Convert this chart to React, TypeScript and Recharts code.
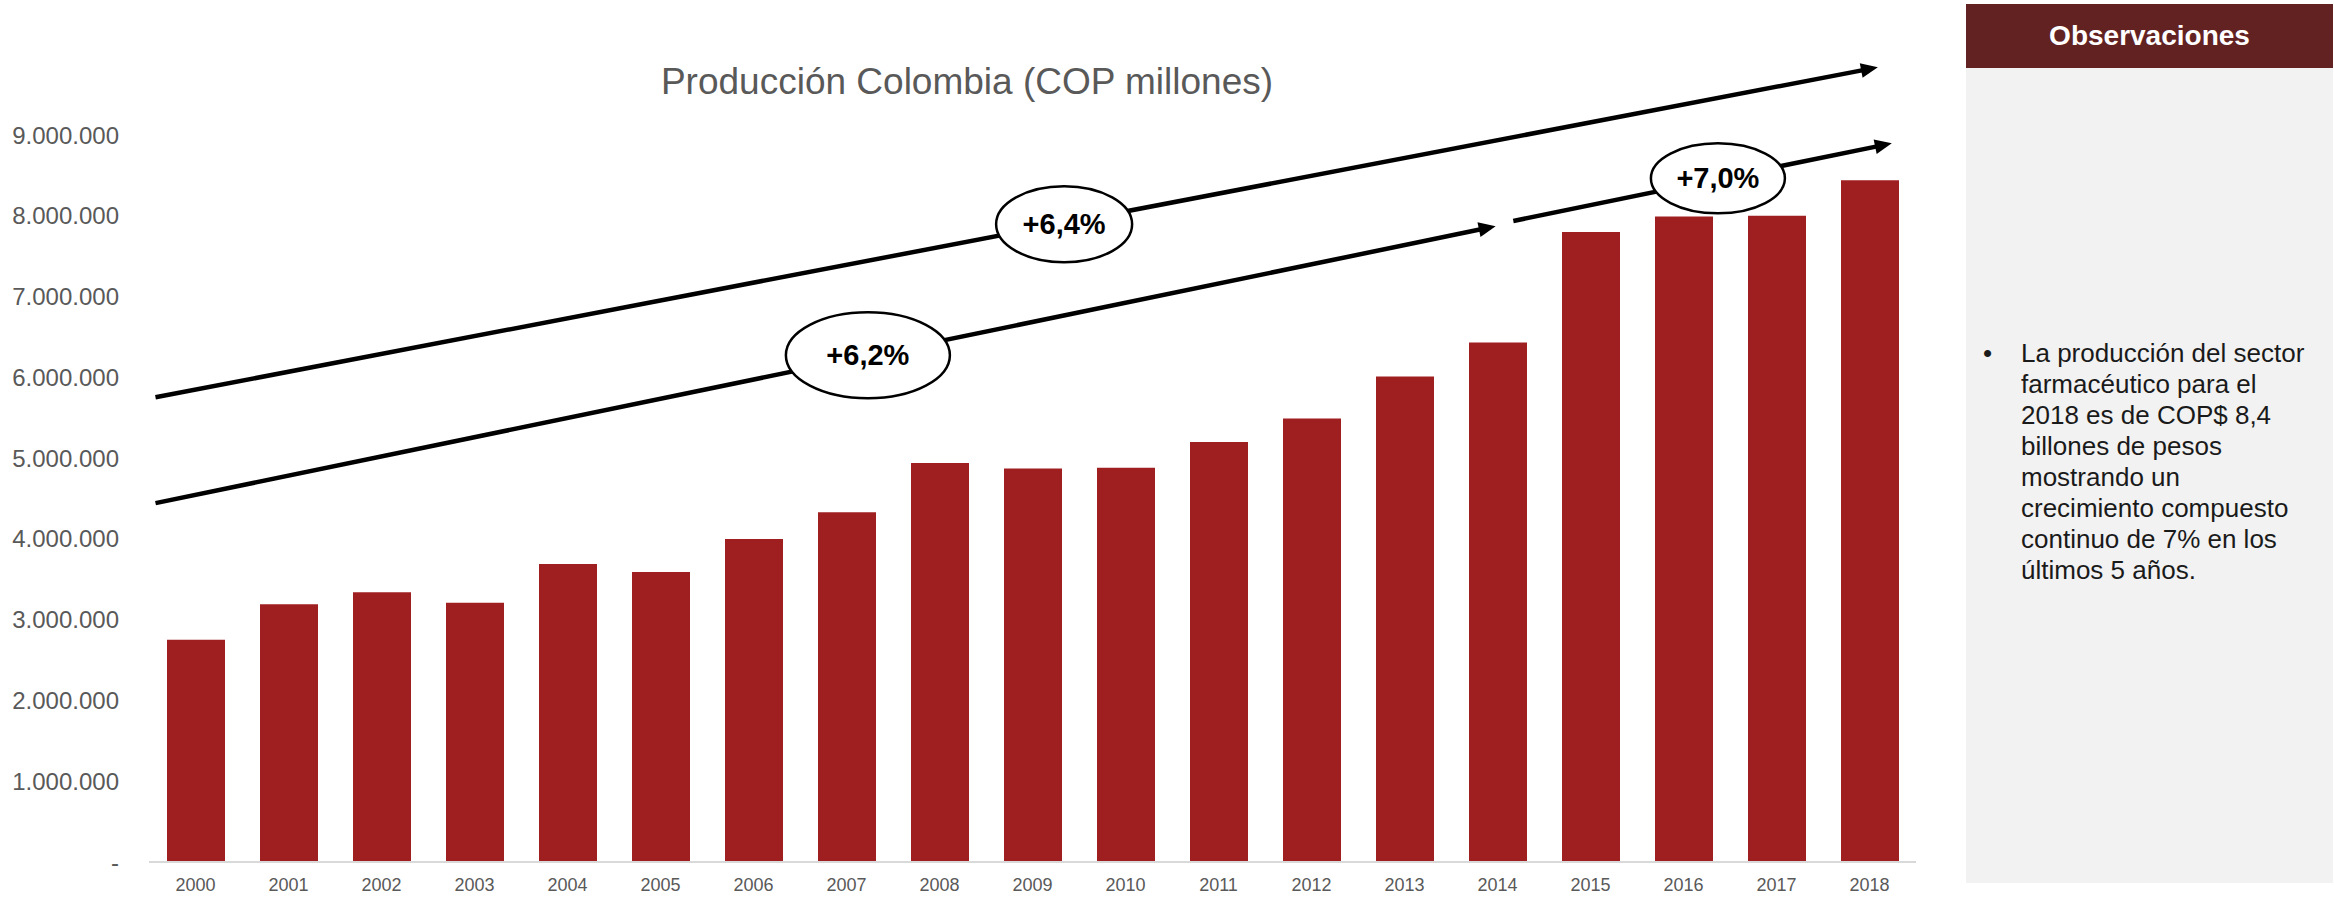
import { BarChart, Bar, XAxis, YAxis, ReferenceLine, ReferenceDot } from "recharts";

const years = [
  "2000", "2001", "2002", "2003", "2004", "2005", "2006", "2007", "2008", "2009",
  "2010", "2011", "2012", "2013", "2014", "2015", "2016", "2017", "2018",
];

// COP millones
const production = [
  2750000, 3190000, 3340000, 3210000, 3690000, 3590000, 4000000, 4330000, 4940000, 4870000,
  4880000, 5200000, 5490000, 6010000, 6430000, 7800000, 7990000, 8000000, 8440000,
];

const yTicks = [0, 1000000, 2000000, 3000000, 4000000, 5000000, 6000000, 7000000, 8000000, 9000000];

// trend arrows in data space: x = year index, y = value
const trendArrows = [
  { id: "total", from: [-0.43, 5754000], to: [18.09, 9838000] },
  { id: "mid", from: [-0.43, 4443000], to: [13.98, 7870000] },
  { id: "last5", from: [14.17, 7936000], to: [18.24, 8897000] },
];

const growthLabels = [
  { text: "+6,4%", at: [9.34, 7895000], rx: 68, ry: 38 },
  { text: "+6,2%", at: [7.23, 6274000], rx: 82, ry: 43 },
  { text: "+7,0%", at: [16.37, 8464000], rx: 67, ry: 35 },
];

const notes = [
  "La producción del sector",
  "farmacéutico para el",
  "2018 es de COP$ 8,4",
  "billones de pesos",
  "mostrando un",
  "crecimiento compuesto",
  "continuo de 7% en los",
  "últimos 5 años.",
];

const data = years.map((year, i) => ({ year, idx: i, value: production[i] }));

const FONT = "'Liberation Sans', Arial, sans-serif";
const GREY = "#595959";

function formatY(v: number) {
  if (v === 0) return "-";
  return String(v).replace(/\B(?=(\d{3})+(?!\d))/g, ".");
}

function ArrowShape(props: any) {
  const x1 = Number(props.x1);
  const y1 = Number(props.y1);
  const x2 = Number(props.x2);
  const y2 = Number(props.y2);
  const dx = x2 - x1;
  const dy = y2 - y1;
  const len = Math.hypot(dx, dy) || 1;
  const ux = dx / len;
  const uy = dy / len;
  const head = 17;
  const half = 7.5;
  const bx = x2 - ux * head;
  const by = y2 - uy * head;
  const px = -uy;
  const py = ux;
  return (
    <g>
      <line x1={x1} y1={y1} x2={bx + ux * 2} y2={by + uy * 2} stroke="#000" strokeWidth={4.5} />
      <polygon
        points={`${x2},${y2} ${bx + px * half},${by + py * half} ${bx - px * half},${by - py * half}`}
        fill="#000"
      />
    </g>
  );
}

function bubble(text: string, rx: number, ry: number) {
  return (props: any) => {
    const cx = Number(props.cx);
    const cy = Number(props.cy);
    return (
      <g>
        <ellipse cx={cx} cy={cy} rx={rx} ry={ry} fill="#fff" stroke="#000" strokeWidth={2.5} />
        <text
          x={cx}
          y={cy}
          textAnchor="middle"
          dominantBaseline="central"
          fontSize={29}
          fontWeight="bold"
          fill="#000"
          fontFamily={FONT}
        >
          {text}
        </text>
      </g>
    );
  };
}

export default function App() {
  return (
    <div
      style={{
        position: "absolute",
        left: 0,
        top: 0,
        width: 2334,
        height: 898,
        background: "#fff",
        fontFamily: FONT,
        overflow: "hidden",
      }}
    >
      <div
        style={{
          position: "absolute",
          left: 967,
          top: 61,
          transform: "translateX(-50%)",
          fontSize: 37,
          lineHeight: "42px",
          color: GREY,
          whiteSpace: "nowrap",
        }}
      >
        Producción Colombia (COP millones)
      </div>

      <div style={{ position: "absolute", left: 0, top: 0 }}>
        <BarChart
          width={1930}
          height={898}
          data={data}
          margin={{ top: 135, right: 14, bottom: 6, left: 0 }}
        >
          <XAxis
            dataKey="year"
            interval={0}
            tickLine={false}
            tickMargin={10}
            height={30}
            axisLine={{ stroke: "#d9d9d9", strokeWidth: 2 }}
            tick={{ fontSize: 18, fill: GREY }}
          />
          <XAxis
            xAxisId="num"
            dataKey="idx"
            type="number"
            domain={[-0.5, 18.5]}
            allowDataOverflow
            allowDecimals
            hide
          />
          <YAxis
            domain={[0, 9000000]}
            ticks={yTicks}
            tickFormatter={formatY}
            width={149}
            axisLine={false}
            tickLine={false}
            tickMargin={24}
            tick={{ fontSize: 24, fill: GREY }}
          />
          <Bar dataKey="value" fill="#9f1f21" barSize={58} isAnimationActive={false} />
          {trendArrows.map((a) => (
            <ReferenceLine
              key={a.id}
              xAxisId="num"
              ifOverflow="visible"
              segment={[
                { x: a.from[0], y: a.from[1] },
                { x: a.to[0], y: a.to[1] },
              ]}
              shape={ArrowShape}
            />
          ))}
          {growthLabels.map((g) => (
            <ReferenceDot
              key={g.text}
              xAxisId="num"
              x={g.at[0]}
              y={g.at[1]}
              ifOverflow="visible"
              shape={bubble(g.text, g.rx, g.ry)}
            />
          ))}
        </BarChart>
      </div>

      <div
        style={{
          position: "absolute",
          left: 1966,
          top: 4,
          width: 367,
          height: 64,
          background: "#622222",
          color: "#fff",
          fontWeight: "bold",
          fontSize: 28,
          display: "flex",
          alignItems: "center",
          justifyContent: "center",
        }}
      >
        Observaciones
      </div>
      <div
        style={{
          position: "absolute",
          left: 1966,
          top: 68,
          width: 367,
          height: 815,
          background: "#f2f2f2",
        }}
      >
        <div
          style={{
            position: "absolute",
            left: 17,
            top: 270,
            fontSize: 26,
            lineHeight: "31px",
            color: "#1a1a1a",
          }}
        >
          •
        </div>
        <div
          style={{
            position: "absolute",
            left: 55,
            top: 270,
            fontSize: 26,
            lineHeight: "31px",
            color: "#1a1a1a",
            whiteSpace: "nowrap",
          }}
        >
          {notes.map((line, i) => (
            <div key={i}>{line}</div>
          ))}
        </div>
      </div>
    </div>
  );
}
